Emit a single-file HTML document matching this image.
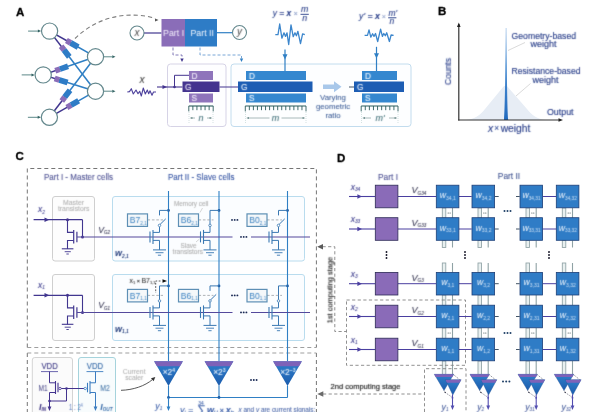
<!DOCTYPE html>
<html><head><meta charset="utf-8"><title>figure</title>
<style>
html,body{margin:0;padding:0;background:#fff;}
body{width:600px;height:412px;overflow:hidden;}
svg{display:block;font-family:"Liberation Sans",sans-serif;}
text{filter:url(#soft);}
</style></head><body>
<svg width="600" height="412" viewBox="0 0 600 412">
<defs><filter id="crisp" x="-10%" y="-20%" width="120%" height="140%"><feConvolveMatrix order="3" kernelMatrix="0 1 0 1 14 1 0 1 0" divisor="18" edgeMode="none" preserveAlpha="false"/></filter><filter id="soft" x="-10%" y="-20%" width="120%" height="140%"><feConvolveMatrix order="3" kernelMatrix="1 5 1 5 25 5 1 5 1" divisor="49" edgeMode="none" preserveAlpha="false"/></filter></defs>
<g id="fig">
<rect x="0" y="0" width="600" height="412" fill="#ffffff"/>
<text x="16" y="15.5" font-size="11.5" fill="#000" text-anchor="start" stroke="#000" stroke-width="0.3" font-weight="bold" style="filter:url(#crisp)">A</text>
<line x1="49.6" y1="31.1" x2="72.24397788458064" y2="43.7786542839591" stroke="#41368f" stroke-width="1.5" />
<line x1="72.24397788458064" y1="43.7786542839591" x2="95.5" y2="56.8" stroke="#2f7fc4" stroke-width="1.5" />
<line x1="49.6" y1="31.1" x2="65.16194617071355" y2="51.476317317208796" stroke="#41368f" stroke-width="1.5" />
<line x1="65.16194617071355" y1="51.476317317208796" x2="95.5" y2="91.2" stroke="#2f7fc4" stroke-width="1.5" />
<line x1="43.2" y1="74.9" x2="61.620173038623534" y2="68.52514087955859" stroke="#41368f" stroke-width="1.5" />
<line x1="61.620173038623534" y1="68.52514087955859" x2="95.5" y2="56.8" stroke="#2f7fc4" stroke-width="1.5" />
<line x1="43.2" y1="74.9" x2="61.08947277222774" y2="80.47549533818953" stroke="#41368f" stroke-width="1.5" />
<line x1="61.08947277222774" y1="80.47549533818953" x2="95.5" y2="91.2" stroke="#2f7fc4" stroke-width="1.5" />
<line x1="49.4" y1="117.3" x2="65.88081414442412" y2="95.6711658191397" stroke="#41368f" stroke-width="1.5" />
<line x1="65.88081414442412" y1="95.6711658191397" x2="95.5" y2="56.8" stroke="#2f7fc4" stroke-width="1.5" />
<line x1="49.4" y1="117.3" x2="72.71643980587368" y2="104.09915230079602" stroke="#41368f" stroke-width="1.5" />
<line x1="72.71643980587368" y1="104.09915230079602" x2="95.5" y2="91.2" stroke="#2f7fc4" stroke-width="1.5" />
<g transform="translate(72.24,43.78) rotate(29.25)"><rect x="-6.7" y="-2.9" width="4.9" height="5.8" fill="#8a6db8"/><rect x="-1.8" y="-2.9" width="8.6" height="5.8" fill="#2e7cc6"/></g>
<g transform="translate(65.16,51.48) rotate(52.63)"><rect x="-6.7" y="-2.9" width="4.9" height="5.8" fill="#8a6db8"/><rect x="-1.8" y="-2.9" width="8.6" height="5.8" fill="#2e7cc6"/></g>
<g transform="translate(61.62,68.53) rotate(-19.09)"><rect x="-6.7" y="-2.9" width="4.9" height="5.8" fill="#8a6db8"/><rect x="-1.8" y="-2.9" width="8.6" height="5.8" fill="#2e7cc6"/></g>
<g transform="translate(61.09,80.48) rotate(17.31)"><rect x="-6.7" y="-2.9" width="4.9" height="5.8" fill="#8a6db8"/><rect x="-1.8" y="-2.9" width="8.6" height="5.8" fill="#2e7cc6"/></g>
<g transform="translate(65.88,95.67) rotate(-52.69)"><rect x="-6.7" y="-2.9" width="4.9" height="5.8" fill="#8a6db8"/><rect x="-1.8" y="-2.9" width="8.6" height="5.8" fill="#2e7cc6"/></g>
<g transform="translate(72.72,104.10) rotate(-29.52)"><rect x="-6.7" y="-2.9" width="4.9" height="5.8" fill="#8a6db8"/><rect x="-1.8" y="-2.9" width="8.6" height="5.8" fill="#2e7cc6"/></g>
<circle cx="49.6" cy="31.1" r="8.1" fill="#fff" stroke="#64888d" stroke-width="1.2"/>
<line x1="28.1" y1="31.1" x2="38.6" y2="31.1" stroke="#4a7c7c" stroke-width="0.9" />
<polygon points="41.1,31.1 37.9,29.6 37.9,32.6" fill="#356565"/>
<circle cx="43.2" cy="74.9" r="8.1" fill="#fff" stroke="#64888d" stroke-width="1.2"/>
<line x1="21.700000000000003" y1="74.9" x2="32.2" y2="74.9" stroke="#4a7c7c" stroke-width="0.9" />
<polygon points="34.7,74.9 31.500000000000004,73.4 31.500000000000004,76.4" fill="#356565"/>
<circle cx="49.4" cy="117.3" r="8.1" fill="#fff" stroke="#64888d" stroke-width="1.2"/>
<line x1="27.9" y1="117.3" x2="38.4" y2="117.3" stroke="#4a7c7c" stroke-width="0.9" />
<polygon points="40.9,117.3 37.699999999999996,115.8 37.699999999999996,118.8" fill="#356565"/>
<circle cx="95.5" cy="56.8" r="8.1" fill="#fff" stroke="#64888d" stroke-width="1.2"/>
<line x1="104.0" y1="56.8" x2="112.5" y2="56.8" stroke="#4a7c7c" stroke-width="0.9" />
<polygon points="115.5,56.8 112.3,55.3 112.3,58.3" fill="#356565"/>
<circle cx="95.5" cy="91.2" r="8.1" fill="#fff" stroke="#64888d" stroke-width="1.2"/>
<line x1="104.0" y1="91.2" x2="112.5" y2="91.2" stroke="#4a7c7c" stroke-width="0.9" />
<polygon points="115.5,91.2 112.3,89.7 112.3,92.7" fill="#356565"/>
<path d="M75,38.5 C92,22 115,13 140,15.5 C147,16 151,17 155,18.5" fill="none" stroke="#7c7c7c" stroke-width="1.1" stroke-dasharray="4.2 3"/>
<polygon points="158.5,20 155.0,18.4 155.0,21.6" fill="#555"/>
<line x1="144" y1="33" x2="161.5" y2="33" stroke="#41368f" stroke-width="1.2" />
<line x1="217" y1="32.7" x2="232.5" y2="32.7" stroke="#2f7fc4" stroke-width="1.2" />
<circle cx="137" cy="33" r="7" fill="#fff" stroke="#64888d" stroke-width="1.1"/>
<text x="137" y="36" font-size="10" fill="#4a4a4a" text-anchor="middle" font-style="italic" >x</text>
<circle cx="239.5" cy="32.5" r="7" fill="#fff" stroke="#64888d" stroke-width="1.1"/>
<text x="239.5" y="35.2" font-size="10" fill="#4a4a4a" text-anchor="middle" font-style="italic" >y</text>
<rect x="161.5" y="19" width="23.5" height="27.5" fill="#8a6db8" stroke="none" stroke-width="1" rx="0" />
<rect x="185" y="19" width="32" height="27.5" fill="#2e7cc6" stroke="none" stroke-width="1" rx="0" />
<text x="173.6" y="35.5" font-size="8.8" fill="#f4f0fc" text-anchor="middle" >Part I</text>
<text x="202.2" y="35.5" font-size="8.8" fill="#f2f7fe" text-anchor="middle" >Part II</text>
<polyline points="173,47.5 173,55 182,55 182,58.5" fill="none" stroke="#6258a5" stroke-width="0.8" stroke-dasharray="3 2"/>
<polygon points="182,62 180.3,58.5 183.7,58.5" fill="#41368f"/>
<polyline points="200,47.5 200,55 241.5,55 241.5,58.5" fill="none" stroke="#5590cc" stroke-width="0.8" stroke-dasharray="3 2"/>
<polygon points="241.5,62 239.8,58.5 243.2,58.5" fill="#2f7fc4"/>
<rect x="167.5" y="64" width="58.5" height="62.5" fill="#fefeff" stroke="#d6d3e6" stroke-width="1" rx="3" />
<rect x="231" y="64" width="180" height="62.5" fill="#fdfeff" stroke="#c2dcee" stroke-width="1" rx="3" />
<text x="142" y="83.4" font-size="10.3" fill="#444" text-anchor="middle" stroke="#444" stroke-width="0.08" font-style="italic" >x</text>
<path d="M127.3,92 L129.5,91.6 L131.3,88.7 L133.3,94 L136,90 L138,93.7 L139.7,91.3 L141.3,96 L143.3,88 L145.3,94 L147.3,90 L148.7,93.7 L150,90.7 L152,95.3 L153.5,92 L156,92" fill="none" stroke="#4d419c" stroke-width="1.1" stroke-linejoin="round"/>
<line x1="157" y1="87" x2="182.5" y2="87" stroke="#44348f" stroke-width="1.1" />
<polygon points="167,87 162.5,85 162.5,89" fill="#44348f"/>
<circle cx="174.5" cy="87" r="1.3" fill="#44348f" stroke="none" stroke-width="1"/>
<polyline points="174.5,87 174.5,75.3 189,75.3" fill="none" stroke="#44348f" stroke-width="1" />
<rect x="189" y="71" width="24" height="9" fill="#8f74bb" stroke="none" stroke-width="1" rx="0" />
<rect x="182.5" y="81.5" width="37" height="10.5" fill="#44348f" stroke="none" stroke-width="1" rx="0" />
<rect x="189" y="93.5" width="24" height="9" fill="#8f74bb" stroke="none" stroke-width="1" rx="0" />
<text x="191.5" y="78.7" font-size="8.3" fill="#f6f2fc" text-anchor="start" stroke="#f6f2fc" stroke-width="0.08" >D</text>
<text x="185" y="89.8" font-size="8.3" fill="#f3effb" text-anchor="start" stroke="#f3effb" stroke-width="0.08" >G</text>
<text x="191.5" y="101.2" font-size="8.3" fill="#f6f2fc" text-anchor="start" stroke="#f6f2fc" stroke-width="0.08" >S</text>
<line x1="219.5" y1="87" x2="238" y2="87" stroke="#44348f" stroke-width="1" />
<line x1="188.8" y1="106" x2="213.2" y2="106" stroke="#2c5c5c" stroke-width="1.1" />
<line x1="188.8" y1="106" x2="188.8" y2="111.4" stroke="#2c5c5c" stroke-width="0.9" />
<line x1="192.86666666666667" y1="106" x2="192.86666666666667" y2="110.2" stroke="#2c5c5c" stroke-width="0.9" />
<line x1="196.93333333333334" y1="106" x2="196.93333333333334" y2="110.2" stroke="#2c5c5c" stroke-width="0.9" />
<line x1="201.0" y1="106" x2="201.0" y2="110.2" stroke="#2c5c5c" stroke-width="0.9" />
<line x1="205.06666666666666" y1="106" x2="205.06666666666666" y2="110.2" stroke="#2c5c5c" stroke-width="0.9" />
<line x1="209.13333333333333" y1="106" x2="209.13333333333333" y2="110.2" stroke="#2c5c5c" stroke-width="0.9" />
<line x1="213.2" y1="106" x2="213.2" y2="111.4" stroke="#2c5c5c" stroke-width="0.9" />
<line x1="189" y1="112" x2="189" y2="123" stroke="#b9cfcf" stroke-width="0.6" stroke-dasharray="1 1"/>
<line x1="213" y1="112" x2="213" y2="123" stroke="#b9cfcf" stroke-width="0.6" stroke-dasharray="1 1"/>
<line x1="191.5" y1="118" x2="195" y2="118" stroke="#7d9696" stroke-width="0.65" />
<polygon points="189.8,118 192.4,116.9 192.4,119.1" fill="#5f8080"/>
<line x1="207" y1="118" x2="210.5" y2="118" stroke="#7d9696" stroke-width="0.65" />
<polygon points="212.2,118 209.6,116.9 209.6,119.1" fill="#5f8080"/>
<text x="201" y="120.8" font-size="9" fill="#3f6f78" text-anchor="middle" stroke="#3f6f78" stroke-width="0.08" font-style="italic" >n</text>
<rect x="246" y="71" width="60" height="9" fill="#3487cf" stroke="none" stroke-width="1" rx="0" />
<rect x="238" y="81.5" width="74.5" height="10.5" fill="#1d5db3" stroke="none" stroke-width="1" rx="0" />
<rect x="246" y="93.5" width="60" height="9" fill="#3487cf" stroke="none" stroke-width="1" rx="0" />
<text x="249" y="78.7" font-size="8.3" fill="#f0f7fe" text-anchor="start" stroke="#f0f7fe" stroke-width="0.08" >D</text>
<text x="241" y="89.8" font-size="8.3" fill="#f0f6fe" text-anchor="start" stroke="#f0f6fe" stroke-width="0.08" >G</text>
<text x="249" y="101.2" font-size="8.3" fill="#f0f7fe" text-anchor="start" stroke="#f0f7fe" stroke-width="0.08" >S</text>
<line x1="245.3" y1="106" x2="306" y2="106" stroke="#2c5c5c" stroke-width="1.1" />
<line x1="245.3" y1="106" x2="245.3" y2="111.4" stroke="#2c5c5c" stroke-width="0.9" />
<line x1="249.34666666666666" y1="106" x2="249.34666666666666" y2="110.2" stroke="#2c5c5c" stroke-width="0.9" />
<line x1="253.39333333333335" y1="106" x2="253.39333333333335" y2="110.2" stroke="#2c5c5c" stroke-width="0.9" />
<line x1="257.44" y1="106" x2="257.44" y2="110.2" stroke="#2c5c5c" stroke-width="0.9" />
<line x1="261.4866666666667" y1="106" x2="261.4866666666667" y2="110.2" stroke="#2c5c5c" stroke-width="0.9" />
<line x1="265.53333333333336" y1="106" x2="265.53333333333336" y2="110.2" stroke="#2c5c5c" stroke-width="0.9" />
<line x1="269.58" y1="106" x2="269.58" y2="110.2" stroke="#2c5c5c" stroke-width="0.9" />
<line x1="273.62666666666667" y1="106" x2="273.62666666666667" y2="110.2" stroke="#2c5c5c" stroke-width="0.9" />
<line x1="277.67333333333335" y1="106" x2="277.67333333333335" y2="110.2" stroke="#2c5c5c" stroke-width="0.9" />
<line x1="281.72" y1="106" x2="281.72" y2="110.2" stroke="#2c5c5c" stroke-width="0.9" />
<line x1="285.76666666666665" y1="106" x2="285.76666666666665" y2="110.2" stroke="#2c5c5c" stroke-width="0.9" />
<line x1="289.81333333333333" y1="106" x2="289.81333333333333" y2="110.2" stroke="#2c5c5c" stroke-width="0.9" />
<line x1="293.86" y1="106" x2="293.86" y2="110.2" stroke="#2c5c5c" stroke-width="0.9" />
<line x1="297.9066666666667" y1="106" x2="297.9066666666667" y2="110.2" stroke="#2c5c5c" stroke-width="0.9" />
<line x1="301.9533333333333" y1="106" x2="301.9533333333333" y2="110.2" stroke="#2c5c5c" stroke-width="0.9" />
<line x1="306.0" y1="106" x2="306.0" y2="111.4" stroke="#2c5c5c" stroke-width="0.9" />
<line x1="245.5" y1="112" x2="245.5" y2="123" stroke="#b9cfcf" stroke-width="0.6" stroke-dasharray="1 1"/>
<line x1="306" y1="112" x2="306" y2="123" stroke="#b9cfcf" stroke-width="0.6" stroke-dasharray="1 1"/>
<line x1="248.0" y1="118" x2="269.5" y2="118" stroke="#7d9696" stroke-width="0.65" />
<polygon points="246.3,118 248.9,116.9 248.9,119.1" fill="#5f8080"/>
<line x1="281.5" y1="118" x2="303.5" y2="118" stroke="#7d9696" stroke-width="0.65" />
<polygon points="305.2,118 302.59999999999997,116.9 302.59999999999997,119.1" fill="#5f8080"/>
<text x="275.5" y="120.8" font-size="9" fill="#3f6f78" text-anchor="middle" stroke="#3f6f78" stroke-width="0.08" font-style="italic" >m</text>
<text x="272.8" y="15.8" font-size="9.3" fill="#2a3f8a" text-anchor="start" textLength="18.5" lengthAdjust="spacingAndGlyphs" stroke="#2a3f8a" stroke-width="0.1" font-style="italic" >y = <tspan font-weight="bold">x</tspan></text>
<text x="293.6" y="15.6" font-size="7.5" fill="#8a9cc8" text-anchor="start" stroke="#8a9cc8" stroke-width="0.08" >×</text>
<text x="304.6" y="12.4" font-size="8.8" fill="#2a3f8a" text-anchor="middle" stroke="#2a3f8a" stroke-width="0.12" font-style="italic" >m</text>
<line x1="300.5" y1="14.3" x2="308.8" y2="14.3" stroke="#2a3f8a" stroke-width="0.9" />
<text x="304.6" y="20.6" font-size="8.8" fill="#2a3f8a" text-anchor="middle" stroke="#2a3f8a" stroke-width="0.12" font-style="italic" >n</text>
<path d="M275.3,34.7 L278,34.7 L279.7,24 L281.9,38.2 L284,32.8 L285.5,36.4 L287,32.8 L288.7,44.5 L291,24.8 L293.2,36.7 L295,32.8 L296.4,35.7 L297.9,31.3 L300.5,43.7 L302.6,33.8 L304.8,34.7" fill="none" stroke="#3c86cc" stroke-width="1.3" stroke-linejoin="round"/>
<line x1="285" y1="49.5" x2="285" y2="71" stroke="#2f7fc4" stroke-width="1.2" />
<polygon points="285,59.5 282.5,54.3 287.5,54.3" fill="#2f7fc4"/>
<polygon points="323,84.6 334,84.6 334,81.3 341.5,86.8 334,92.3 334,89 323,89" fill="#a9c8ea"/>
<text x="333" y="100.3" font-size="7.8" fill="#3f5f98" text-anchor="middle" stroke="#3f5f98" stroke-width="0.08" >Varying</text>
<text x="333" y="109.3" font-size="7.8" fill="#3f5f98" text-anchor="middle" stroke="#3f5f98" stroke-width="0.08" >geometric</text>
<text x="333" y="118.3" font-size="7.8" fill="#3f5f98" text-anchor="middle" stroke="#3f5f98" stroke-width="0.08" >ratio</text>
<line x1="349" y1="87" x2="354.5" y2="87" stroke="#456" stroke-width="1" />
<rect x="362" y="71" width="35" height="9" fill="#3487cf" stroke="none" stroke-width="1" rx="0" />
<rect x="354" y="81.5" width="50" height="10.5" fill="#1d5db3" stroke="none" stroke-width="1" rx="0" />
<rect x="362" y="93.5" width="35" height="9" fill="#3487cf" stroke="none" stroke-width="1" rx="0" />
<text x="365" y="78.7" font-size="8.3" fill="#f0f7fe" text-anchor="start" stroke="#f0f7fe" stroke-width="0.08" >D</text>
<text x="357" y="89.8" font-size="8.3" fill="#f0f6fe" text-anchor="start" stroke="#f0f6fe" stroke-width="0.08" >G</text>
<text x="365" y="101.2" font-size="8.3" fill="#f0f7fe" text-anchor="start" stroke="#f0f7fe" stroke-width="0.08" >S</text>
<line x1="361.2" y1="106" x2="398" y2="106" stroke="#2c5c5c" stroke-width="1.1" />
<line x1="361.2" y1="106" x2="361.2" y2="111.4" stroke="#2c5c5c" stroke-width="0.9" />
<line x1="365.2888888888889" y1="106" x2="365.2888888888889" y2="110.2" stroke="#2c5c5c" stroke-width="0.9" />
<line x1="369.3777777777778" y1="106" x2="369.3777777777778" y2="110.2" stroke="#2c5c5c" stroke-width="0.9" />
<line x1="373.46666666666664" y1="106" x2="373.46666666666664" y2="110.2" stroke="#2c5c5c" stroke-width="0.9" />
<line x1="377.55555555555554" y1="106" x2="377.55555555555554" y2="110.2" stroke="#2c5c5c" stroke-width="0.9" />
<line x1="381.64444444444445" y1="106" x2="381.64444444444445" y2="110.2" stroke="#2c5c5c" stroke-width="0.9" />
<line x1="385.73333333333335" y1="106" x2="385.73333333333335" y2="110.2" stroke="#2c5c5c" stroke-width="0.9" />
<line x1="389.8222222222222" y1="106" x2="389.8222222222222" y2="110.2" stroke="#2c5c5c" stroke-width="0.9" />
<line x1="393.9111111111111" y1="106" x2="393.9111111111111" y2="110.2" stroke="#2c5c5c" stroke-width="0.9" />
<line x1="398.0" y1="106" x2="398.0" y2="111.4" stroke="#2c5c5c" stroke-width="0.9" />
<line x1="361.5" y1="112" x2="361.5" y2="123" stroke="#b9cfcf" stroke-width="0.6" stroke-dasharray="1 1"/>
<line x1="398" y1="112" x2="398" y2="123" stroke="#b9cfcf" stroke-width="0.6" stroke-dasharray="1 1"/>
<line x1="364.0" y1="118" x2="371" y2="118" stroke="#7d9696" stroke-width="0.65" />
<polygon points="362.3,118 364.90000000000003,116.9 364.90000000000003,119.1" fill="#5f8080"/>
<line x1="389" y1="118" x2="395.5" y2="118" stroke="#7d9696" stroke-width="0.65" />
<polygon points="397.2,118 394.59999999999997,116.9 394.59999999999997,119.1" fill="#5f8080"/>
<text x="380" y="120.8" font-size="9" fill="#3f6f78" text-anchor="middle" stroke="#3f6f78" stroke-width="0.08" font-style="italic" >m'</text>
<text x="359" y="19.3" font-size="9" fill="#2a3f8a" text-anchor="start" textLength="21" lengthAdjust="spacingAndGlyphs" stroke="#2a3f8a" stroke-width="0.1" font-style="italic" >y' = <tspan font-weight='bold'>x</tspan></text>
<text x="381.8" y="19.1" font-size="7.2" fill="#8a9cc8" text-anchor="start" stroke="#8a9cc8" stroke-width="0.08" >×</text>
<text x="392.8" y="15.8" font-size="8.5" fill="#2a3f8a" text-anchor="middle" stroke="#2a3f8a" stroke-width="0.12" font-style="italic" >m'</text>
<line x1="388.2" y1="17.8" x2="396.4" y2="17.8" stroke="#2a3f8a" stroke-width="0.9" />
<text x="391.8" y="24.1" font-size="8.5" fill="#2a3f8a" text-anchor="middle" stroke="#2a3f8a" stroke-width="0.12" font-style="italic" >n</text>
<path d="M364.6,35.3 L367.5,35.3 L369,29.9 L370.8,37.2 L372.6,33.8 L374,36.4 L375.5,33.5 L377.7,41.5 L380.6,29.2 L382.4,36.4 L383.8,33.5 L385.3,35.7 L386.7,32.8 L389.4,41.5 L391.1,35 L393.6,35.3" fill="none" stroke="#3c86cc" stroke-width="1.3" stroke-linejoin="round"/>
<line x1="376.5" y1="46.8" x2="376.5" y2="71" stroke="#2f7fc4" stroke-width="1.2" />
<polygon points="376.5,58.5 374.0,53.3 379.0,53.3" fill="#2f7fc4"/>
<text x="438" y="15.3" font-size="11.5" fill="#000" text-anchor="start" stroke="#000" stroke-width="0.3" font-weight="bold" style="filter:url(#crisp)">B</text>
<defs><linearGradient id="pk" x1="0" y1="0" x2="0" y2="1"><stop offset="0" stop-color="#a9c8ea"/><stop offset="0.4" stop-color="#4f91d4"/><stop offset="1" stop-color="#2169bd"/></linearGradient><linearGradient id="tg" x1="0" y1="0" x2="0" y2="1"><stop offset="0" stop-color="#2f80cb"/><stop offset="1" stop-color="#1c5cad"/></linearGradient></defs>
<path d="M466,120 C475,119.3 480,115 485,109 L503.3,86.8 Q505.5,84.6 507.7,86.8 L527,109 C532,115 537,119.3 546,120 Z" fill="#e7edf5"/>
<path d="M504,120 C504.9,108 505.3,80 505.7,28 L506.5,28 C506.9,80 507.3,108 508.2,120 Z" fill="url(#pk)"/>
<line x1="458.8" y1="24" x2="458.8" y2="120.5" stroke="#333" stroke-width="1.2" />
<polygon points="458.8,22.5 457.0,27.0 460.6,27.0" fill="#222"/>
<line x1="458.2" y1="120" x2="559" y2="120" stroke="#333" stroke-width="1.2" />
<polygon points="563,120 558.5,118.2 558.5,121.8" fill="#222"/>
<text transform="translate(451,71.5) rotate(-90)" font-size="9.3" fill="#2a3f8a" stroke="#2a3f8a" stroke-width="0.16" textLength="27" lengthAdjust="spacingAndGlyphs" text-anchor="middle">Counts</text>
<text x="543.8" y="38.5" font-size="9.3" fill="#2a3f8a" text-anchor="middle" textLength="64.5" lengthAdjust="spacingAndGlyphs" stroke="#2a3f8a" stroke-width="0.16" >Geometry-based</text>
<text x="543.5" y="46.7" font-size="9.3" fill="#2a3f8a" text-anchor="middle" textLength="26" lengthAdjust="spacingAndGlyphs" stroke="#2a3f8a" stroke-width="0.16" >weight</text>
<text x="546" y="74" font-size="9.3" fill="#2a3f8a" text-anchor="middle" textLength="69" lengthAdjust="spacingAndGlyphs" stroke="#2a3f8a" stroke-width="0.16" >Resistance-based</text>
<text x="545.5" y="82.5" font-size="9.3" fill="#2a3f8a" text-anchor="middle" textLength="26" lengthAdjust="spacingAndGlyphs" stroke="#2a3f8a" stroke-width="0.16" >weight</text>
<line x1="508" y1="50.5" x2="525" y2="42.5" stroke="#d0d0d0" stroke-width="0.8" />
<line x1="516" y1="96" x2="530.5" y2="83.5" stroke="#d0d0d0" stroke-width="0.8" />
<text x="547" y="114.5" font-size="9.3" fill="#2a3f8a" text-anchor="start" textLength="26.5" lengthAdjust="spacingAndGlyphs" stroke="#2a3f8a" stroke-width="0.16" >Output</text>
<text x="488" y="131.5" font-size="10.3" fill="#2a3f8a" text-anchor="start" stroke="#2a3f8a" stroke-width="0.14" ><tspan font-style="italic">x</tspan><tspan font-size="8.2" dx="1.2" dy="-0.2" fill="#4a60a5">×</tspan><tspan dx="1.5" dy="0.3">weight</tspan></text>
<text x="15.5" y="159.5" font-size="11.5" fill="#000" text-anchor="start" stroke="#000" stroke-width="0.3" font-weight="bold" style="filter:url(#crisp)">C</text>
<path d="M27.3,347.5 L27.3,168.5 L316.4,168.5 L316.4,347.5" fill="none" stroke="#6e6e6e" stroke-width="0.95" stroke-dasharray="4 3"/>
<path d="M27.3,347.5 L316.4,347.5" fill="none" stroke="#9a9a9a" stroke-width="0.95" stroke-dasharray="4 3"/>
<path d="M27.3,353 L27.3,412 M316.4,353 L316.4,412" fill="none" stroke="#6e6e6e" stroke-width="0.95" stroke-dasharray="4 3"/>
<path d="M27.3,353 L316.4,353" fill="none" stroke="#9a9a9a" stroke-width="0.95" stroke-dasharray="4 3"/>
<text x="44" y="180" font-size="8.4" fill="#4b4f92" text-anchor="start" textLength="69" lengthAdjust="spacingAndGlyphs" stroke="#4b4f92" stroke-width="0.08" >Part I - Master cells</text>
<text x="168" y="180" font-size="8.4" fill="#2f4fa0" text-anchor="start" textLength="66.5" lengthAdjust="spacingAndGlyphs" stroke="#2f4fa0" stroke-width="0.08" >Part II - Slave cells</text>
<rect x="52.5" y="196.5" width="42" height="64.5" fill="#fdfdfd" stroke="#cfcfcf" stroke-width="1" rx="2.5" />
<rect x="112.5" y="196.5" width="192" height="64.5" fill="#fbfdff" stroke="#b9dcee" stroke-width="1" rx="2.5" />
<rect x="52.5" y="274.5" width="42" height="66.0" fill="#fdfdfd" stroke="#cfcfcf" stroke-width="1" rx="2.5" />
<rect x="112.5" y="274.5" width="192" height="66.0" fill="#fbfdff" stroke="#b9dcee" stroke-width="1" rx="2.5" />
<line x1="168.5" y1="191" x2="168.5" y2="361" stroke="#2f7fc4" stroke-width="1.1" />
<line x1="219" y1="191" x2="219" y2="361" stroke="#2f7fc4" stroke-width="1.1" />
<line x1="287.5" y1="191" x2="287.5" y2="361" stroke="#2f7fc4" stroke-width="1.1" />
<line x1="33.6" y1="219.7" x2="82.5" y2="219.7" stroke="#41368f" stroke-width="1.3" />
<polygon points="49.3,219.7 44.5,217.5 44.5,221.89999999999998" fill="#41368f"/>
<circle cx="67.5" cy="219.7" r="1.5" fill="#44348f" stroke="none" stroke-width="1"/>
<polyline points="67.5,219.7 67.5,232.4 73.7,232.4" fill="none" stroke="#41368f" stroke-width="1.1" />
<line x1="73.7" y1="229.9" x2="73.7" y2="243.4" stroke="#41368f" stroke-width="1.2" />
<line x1="76.9" y1="231.70000000000002" x2="76.9" y2="242.3" stroke="#41368f" stroke-width="1.2" />
<polyline points="82.5,219.7 82.5,236.9" fill="none" stroke="#41368f" stroke-width="1.1" />
<circle cx="82.5" cy="236.9" r="1.5" fill="#44348f" stroke="none" stroke-width="1"/>
<polyline points="73.7,240.5 67.5,240.5 67.5,248.9" fill="none" stroke="#41368f" stroke-width="1.1" />
<line x1="61.8" y1="248.8" x2="73.4" y2="248.8" stroke="#41368f" stroke-width="1.1" />
<line x1="64.7" y1="251.70000000000002" x2="70.8" y2="251.70000000000002" stroke="#41368f" stroke-width="0.9" />
<line x1="66.4" y1="254.0" x2="68.8" y2="254.0" stroke="#41368f" stroke-width="0.9" />
<line x1="77" y1="236.9" x2="232.5" y2="236.9" stroke="#54499c" stroke-width="1.05" />
<line x1="251" y1="236.9" x2="310" y2="236.9" stroke="#54499c" stroke-width="1.05" />
<circle cx="241.0" cy="236.9" r="0.95" fill="#1a2a55" stroke="none" stroke-width="1"/>
<circle cx="243.7" cy="236.9" r="0.95" fill="#1a2a55" stroke="none" stroke-width="1"/>
<circle cx="246.4" cy="236.9" r="0.95" fill="#1a2a55" stroke="none" stroke-width="1"/>
<circle cx="232.0" cy="219.9" r="0.95" fill="#1a2a55" stroke="none" stroke-width="1"/>
<circle cx="234.7" cy="219.9" r="0.95" fill="#1a2a55" stroke="none" stroke-width="1"/>
<circle cx="237.4" cy="219.9" r="0.95" fill="#1a2a55" stroke="none" stroke-width="1"/>
<text x="38" y="212.39999999999998" font-size="8.5" fill="#38388a" text-anchor="start" stroke="#38388a" stroke-width="0.08" font-style="italic" >x<tspan font-size="4.8" dy="1.2">2</tspan></text>
<text x="98.2" y="232.8" font-size="8.6" fill="#333350" text-anchor="start" stroke="#333350" stroke-width="0.08" font-style="italic" >V<tspan font-size="4.5" dy="1.2">G2</tspan></text>
<text x="115" y="256.1" font-size="9" fill="#27407e" text-anchor="start" font-style="italic" font-weight="bold" >w<tspan font-size="4.8" dy="1.4">2,1</tspan></text>
<line x1="150.0" y1="231.4" x2="150.0" y2="242.4" stroke="#3a78b2" stroke-width="1.1" />
<line x1="153.0" y1="229.9" x2="153.0" y2="243.9" stroke="#3a78b2" stroke-width="1.1" />
<polyline points="153.0,232.4 159.5,232.4 159.5,226.6" fill="none" stroke="#3a78b2" stroke-width="1" />
<polyline points="153.0,240.4 159.5,240.4 159.5,249.9" fill="none" stroke="#3a78b2" stroke-width="1" />
<line x1="153.0" y1="249.9" x2="166.0" y2="249.9" stroke="#3a78b2" stroke-width="1" />
<line x1="155.5" y1="252.70000000000002" x2="163.5" y2="252.70000000000002" stroke="#3a78b2" stroke-width="0.9" />
<line x1="157.9" y1="255.20000000000002" x2="161.1" y2="255.20000000000002" stroke="#3a78b2" stroke-width="0.9" />
<circle cx="168.5" cy="210.4" r="1.4" fill="#1f5fa8" stroke="none" stroke-width="1"/>
<polyline points="168.5,210.4 159.5,210.4 159.5,215.4" fill="none" stroke="#3a78b2" stroke-width="1" />
<line x1="160.1" y1="224.4" x2="165.7" y2="218.9" stroke="#3a78b2" stroke-width="1" />
<circle cx="159.5" cy="225.4" r="1.25" fill="#fff" stroke="#3a78b2" stroke-width="0.8"/>
<line x1="147.5" y1="219.9" x2="163.0" y2="219.9" stroke="#9a9fa5" stroke-width="0.8" stroke-dasharray="2.6 1.8"/>
<rect x="127.5" y="213.9" width="20" height="12.5" fill="#f5f8fa" stroke="#5d8fb5" stroke-width="1.2" rx="0" />
<text x="129.8" y="223.4" font-size="8.6" fill="#3a80c0" text-anchor="start" >B7<tspan font-size="4.6" dy="1.3">2,1</tspan></text>
<line x1="200.5" y1="231.4" x2="200.5" y2="242.4" stroke="#3a78b2" stroke-width="1.1" />
<line x1="203.5" y1="229.9" x2="203.5" y2="243.9" stroke="#3a78b2" stroke-width="1.1" />
<polyline points="203.5,232.4 210,232.4 210,226.6" fill="none" stroke="#3a78b2" stroke-width="1" />
<polyline points="203.5,240.4 210,240.4 210,249.9" fill="none" stroke="#3a78b2" stroke-width="1" />
<line x1="203.5" y1="249.9" x2="216.5" y2="249.9" stroke="#3a78b2" stroke-width="1" />
<line x1="206" y1="252.70000000000002" x2="214" y2="252.70000000000002" stroke="#3a78b2" stroke-width="0.9" />
<line x1="208.4" y1="255.20000000000002" x2="211.6" y2="255.20000000000002" stroke="#3a78b2" stroke-width="0.9" />
<circle cx="219" cy="210.4" r="1.4" fill="#1f5fa8" stroke="none" stroke-width="1"/>
<polyline points="219,210.4 210,210.4 210,224.20000000000002" fill="none" stroke="#3a78b2" stroke-width="1" />
<circle cx="210" cy="225.4" r="1.25" fill="#fff" stroke="#3a78b2" stroke-width="0.8"/>
<line x1="198.5" y1="219.9" x2="213.5" y2="219.9" stroke="#9a9fa5" stroke-width="0.8" stroke-dasharray="2.6 1.8"/>
<rect x="178.5" y="213.9" width="20" height="12.5" fill="#f5f8fa" stroke="#5d8fb5" stroke-width="1.2" rx="0" />
<text x="180.8" y="223.4" font-size="8.6" fill="#3a80c0" text-anchor="start" >B6<tspan font-size="4.6" dy="1.3">2,1</tspan></text>
<line x1="269.0" y1="231.4" x2="269.0" y2="242.4" stroke="#3a78b2" stroke-width="1.1" />
<line x1="272.0" y1="229.9" x2="272.0" y2="243.9" stroke="#3a78b2" stroke-width="1.1" />
<polyline points="272.0,232.4 278.5,232.4 278.5,226.6" fill="none" stroke="#3a78b2" stroke-width="1" />
<polyline points="272.0,240.4 278.5,240.4 278.5,249.9" fill="none" stroke="#3a78b2" stroke-width="1" />
<line x1="272.0" y1="249.9" x2="285.0" y2="249.9" stroke="#3a78b2" stroke-width="1" />
<line x1="274.5" y1="252.70000000000002" x2="282.5" y2="252.70000000000002" stroke="#3a78b2" stroke-width="0.9" />
<line x1="276.9" y1="255.20000000000002" x2="280.1" y2="255.20000000000002" stroke="#3a78b2" stroke-width="0.9" />
<circle cx="287.5" cy="210.4" r="1.4" fill="#1f5fa8" stroke="none" stroke-width="1"/>
<polyline points="287.5,210.4 278.5,210.4 278.5,215.4" fill="none" stroke="#3a78b2" stroke-width="1" />
<line x1="279.1" y1="224.4" x2="284.7" y2="218.9" stroke="#3a78b2" stroke-width="1" />
<circle cx="278.5" cy="225.4" r="1.25" fill="#fff" stroke="#3a78b2" stroke-width="0.8"/>
<line x1="267" y1="219.9" x2="282.0" y2="219.9" stroke="#9a9fa5" stroke-width="0.8" stroke-dasharray="2.6 1.8"/>
<rect x="247" y="213.9" width="20" height="12.5" fill="#f5f8fa" stroke="#5d8fb5" stroke-width="1.2" rx="0" />
<text x="249.3" y="223.4" font-size="8.6" fill="#3a80c0" text-anchor="start" >B0<tspan font-size="4.6" dy="1.3">2,1</tspan></text>
<line x1="33.6" y1="295.3" x2="82.5" y2="295.3" stroke="#41368f" stroke-width="1.3" />
<polygon points="49.3,295.3 44.5,293.1 44.5,297.5" fill="#41368f"/>
<circle cx="67.5" cy="295.3" r="1.5" fill="#44348f" stroke="none" stroke-width="1"/>
<polyline points="67.5,295.3 67.5,307.9 73.7,307.9" fill="none" stroke="#41368f" stroke-width="1.1" />
<line x1="73.7" y1="305.4" x2="73.7" y2="318.9" stroke="#41368f" stroke-width="1.2" />
<line x1="76.9" y1="307.2" x2="76.9" y2="317.79999999999995" stroke="#41368f" stroke-width="1.2" />
<polyline points="82.5,295.3 82.5,312.4" fill="none" stroke="#41368f" stroke-width="1.1" />
<circle cx="82.5" cy="312.4" r="1.5" fill="#44348f" stroke="none" stroke-width="1"/>
<polyline points="73.7,316.0 67.5,316.0 67.5,324.4" fill="none" stroke="#41368f" stroke-width="1.1" />
<line x1="61.8" y1="324.29999999999995" x2="73.4" y2="324.29999999999995" stroke="#41368f" stroke-width="1.1" />
<line x1="64.7" y1="327.2" x2="70.8" y2="327.2" stroke="#41368f" stroke-width="0.9" />
<line x1="66.4" y1="329.5" x2="68.8" y2="329.5" stroke="#41368f" stroke-width="0.9" />
<line x1="77" y1="312.4" x2="232.5" y2="312.4" stroke="#54499c" stroke-width="1.05" />
<line x1="251" y1="312.4" x2="310" y2="312.4" stroke="#54499c" stroke-width="1.05" />
<circle cx="241.0" cy="312.4" r="0.95" fill="#1a2a55" stroke="none" stroke-width="1"/>
<circle cx="243.7" cy="312.4" r="0.95" fill="#1a2a55" stroke="none" stroke-width="1"/>
<circle cx="246.4" cy="312.4" r="0.95" fill="#1a2a55" stroke="none" stroke-width="1"/>
<circle cx="232.0" cy="295.4" r="0.95" fill="#1a2a55" stroke="none" stroke-width="1"/>
<circle cx="234.7" cy="295.4" r="0.95" fill="#1a2a55" stroke="none" stroke-width="1"/>
<circle cx="237.4" cy="295.4" r="0.95" fill="#1a2a55" stroke="none" stroke-width="1"/>
<text x="38" y="288.0" font-size="8.5" fill="#38388a" text-anchor="start" stroke="#38388a" stroke-width="0.08" font-style="italic" >x<tspan font-size="4.8" dy="1.2">1</tspan></text>
<text x="98.2" y="308.29999999999995" font-size="8.6" fill="#333350" text-anchor="start" stroke="#333350" stroke-width="0.08" font-style="italic" >V<tspan font-size="4.5" dy="1.2">G1</tspan></text>
<text x="115" y="331.59999999999997" font-size="9" fill="#27407e" text-anchor="start" font-style="italic" font-weight="bold" >w<tspan font-size="4.8" dy="1.4">1,1</tspan></text>
<line x1="150.0" y1="306.9" x2="150.0" y2="317.9" stroke="#3a78b2" stroke-width="1.1" />
<line x1="153.0" y1="305.4" x2="153.0" y2="319.4" stroke="#3a78b2" stroke-width="1.1" />
<polyline points="153.0,307.9 159.5,307.9 159.5,302.09999999999997" fill="none" stroke="#3a78b2" stroke-width="1" />
<polyline points="153.0,315.9 159.5,315.9 159.5,325.4" fill="none" stroke="#3a78b2" stroke-width="1" />
<line x1="153.0" y1="325.4" x2="166.0" y2="325.4" stroke="#3a78b2" stroke-width="1" />
<line x1="155.5" y1="328.2" x2="163.5" y2="328.2" stroke="#3a78b2" stroke-width="0.9" />
<line x1="157.9" y1="330.7" x2="161.1" y2="330.7" stroke="#3a78b2" stroke-width="0.9" />
<circle cx="168.5" cy="285.9" r="1.4" fill="#1f5fa8" stroke="none" stroke-width="1"/>
<polyline points="168.5,285.9 159.5,285.9 159.5,299.7" fill="none" stroke="#3a78b2" stroke-width="1" />
<circle cx="159.5" cy="300.9" r="1.25" fill="#fff" stroke="#3a78b2" stroke-width="0.8"/>
<line x1="147.5" y1="295.4" x2="163.0" y2="295.4" stroke="#9a9fa5" stroke-width="0.8" stroke-dasharray="2.6 1.8"/>
<rect x="127.5" y="289.4" width="20" height="12.5" fill="#f5f8fa" stroke="#5d8fb5" stroke-width="1.2" rx="0" />
<text x="129.8" y="298.9" font-size="8.6" fill="#3a80c0" text-anchor="start" >B7<tspan font-size="4.6" dy="1.3">1,1</tspan></text>
<line x1="200.5" y1="306.9" x2="200.5" y2="317.9" stroke="#3a78b2" stroke-width="1.1" />
<line x1="203.5" y1="305.4" x2="203.5" y2="319.4" stroke="#3a78b2" stroke-width="1.1" />
<polyline points="203.5,307.9 210,307.9 210,302.09999999999997" fill="none" stroke="#3a78b2" stroke-width="1" />
<polyline points="203.5,315.9 210,315.9 210,325.4" fill="none" stroke="#3a78b2" stroke-width="1" />
<line x1="203.5" y1="325.4" x2="216.5" y2="325.4" stroke="#3a78b2" stroke-width="1" />
<line x1="206" y1="328.2" x2="214" y2="328.2" stroke="#3a78b2" stroke-width="0.9" />
<line x1="208.4" y1="330.7" x2="211.6" y2="330.7" stroke="#3a78b2" stroke-width="0.9" />
<circle cx="219" cy="285.9" r="1.4" fill="#1f5fa8" stroke="none" stroke-width="1"/>
<polyline points="219,285.9 210,285.9 210,290.9" fill="none" stroke="#3a78b2" stroke-width="1" />
<line x1="210.6" y1="299.9" x2="216.2" y2="294.4" stroke="#3a78b2" stroke-width="1" />
<circle cx="210" cy="300.9" r="1.25" fill="#fff" stroke="#3a78b2" stroke-width="0.8"/>
<line x1="198.5" y1="295.4" x2="213.5" y2="295.4" stroke="#9a9fa5" stroke-width="0.8" stroke-dasharray="2.6 1.8"/>
<rect x="178.5" y="289.4" width="20" height="12.5" fill="#f5f8fa" stroke="#5d8fb5" stroke-width="1.2" rx="0" />
<text x="180.8" y="298.9" font-size="8.6" fill="#3a80c0" text-anchor="start" >B6<tspan font-size="4.6" dy="1.3">1,1</tspan></text>
<line x1="269.0" y1="306.9" x2="269.0" y2="317.9" stroke="#3a78b2" stroke-width="1.1" />
<line x1="272.0" y1="305.4" x2="272.0" y2="319.4" stroke="#3a78b2" stroke-width="1.1" />
<polyline points="272.0,307.9 278.5,307.9 278.5,302.09999999999997" fill="none" stroke="#3a78b2" stroke-width="1" />
<polyline points="272.0,315.9 278.5,315.9 278.5,325.4" fill="none" stroke="#3a78b2" stroke-width="1" />
<line x1="272.0" y1="325.4" x2="285.0" y2="325.4" stroke="#3a78b2" stroke-width="1" />
<line x1="274.5" y1="328.2" x2="282.5" y2="328.2" stroke="#3a78b2" stroke-width="0.9" />
<line x1="276.9" y1="330.7" x2="280.1" y2="330.7" stroke="#3a78b2" stroke-width="0.9" />
<circle cx="287.5" cy="285.9" r="1.4" fill="#1f5fa8" stroke="none" stroke-width="1"/>
<polyline points="287.5,285.9 278.5,285.9 278.5,299.7" fill="none" stroke="#3a78b2" stroke-width="1" />
<circle cx="278.5" cy="300.9" r="1.25" fill="#fff" stroke="#3a78b2" stroke-width="0.8"/>
<line x1="267" y1="295.4" x2="282.0" y2="295.4" stroke="#9a9fa5" stroke-width="0.8" stroke-dasharray="2.6 1.8"/>
<rect x="247" y="289.4" width="20" height="12.5" fill="#f5f8fa" stroke="#5d8fb5" stroke-width="1.2" rx="0" />
<text x="249.3" y="298.9" font-size="8.6" fill="#3a80c0" text-anchor="start" >B0<tspan font-size="4.6" dy="1.3">1,1</tspan></text>
<text x="73.5" y="204.5" font-size="6.6" fill="#b0b0b0" text-anchor="middle" textLength="21" lengthAdjust="spacingAndGlyphs" stroke="#b0b0b0" stroke-width="0.08" >Master</text>
<text x="73.7" y="211" font-size="6.6" fill="#b0b0b0" text-anchor="middle" textLength="31.5" lengthAdjust="spacingAndGlyphs" stroke="#b0b0b0" stroke-width="0.08" >transistors</text>
<text x="191.2" y="206" font-size="6.6" fill="#adadad" text-anchor="middle" textLength="34.5" lengthAdjust="spacingAndGlyphs" stroke="#adadad" stroke-width="0.08" >Memory cell</text>
<line x1="200" y1="212.5" x2="202.5" y2="208" stroke="#bbb" stroke-width="0.6" />
<text x="188.5" y="247.5" font-size="6.6" fill="#adadad" text-anchor="middle" textLength="16" lengthAdjust="spacingAndGlyphs" stroke="#adadad" stroke-width="0.08" >Slave</text>
<text x="187.8" y="254.3" font-size="6.6" fill="#adadad" text-anchor="middle" textLength="30.5" lengthAdjust="spacingAndGlyphs" stroke="#adadad" stroke-width="0.08" >transistors</text>
<line x1="196" y1="242" x2="199.5" y2="239" stroke="#bbb" stroke-width="0.6" />
<text x="129.5" y="282.6" font-size="6.8" fill="#333" text-anchor="start" stroke="#333" stroke-width="0.08" >x<tspan font-size="4" dy="1">1</tspan><tspan dy="-1" font-size="5.5"> × </tspan><tspan font-size="7">B7</tspan><tspan font-size="4" dy="1">1,1</tspan></text>
<polyline points="160.5,281 155.7,281 155.7,293" fill="none" stroke="#333" stroke-width="0.8" stroke-dasharray="1.8 1.5"/>
<polygon points="167,281 162.5,279.2 162.5,282.8" fill="#111"/>
<rect x="32.3" y="357.5" width="40.2" height="60" fill="#fbfbfb" stroke="#d4d4d4" stroke-width="1" rx="2.5" />
<rect x="78.5" y="357.5" width="37" height="60" fill="#f8fcfd" stroke="#a5d3dc" stroke-width="1" rx="2.5" />
<text x="49.6" y="369.4" font-size="8.3" fill="#3d3a85" text-anchor="middle" textLength="16.3" lengthAdjust="spacingAndGlyphs" stroke="#3d3a85" stroke-width="0.12" >VDD</text>
<line x1="41" y1="371.6" x2="58" y2="371.6" stroke="#5a55a5" stroke-width="0.9" />
<text x="95" y="369.4" font-size="8.3" fill="#356aa8" text-anchor="middle" textLength="16.3" lengthAdjust="spacingAndGlyphs" stroke="#356aa8" stroke-width="0.12" >VDD</text>
<line x1="86.5" y1="371.6" x2="103.3" y2="371.6" stroke="#3a7cc0" stroke-width="0.9" />
<polyline points="49.5,371.6 49.5,382.8 55.5,382.8" fill="none" stroke="#44348f" stroke-width="1" />
<line x1="55.5" y1="381" x2="55.5" y2="394" stroke="#44348f" stroke-width="1.1" />
<line x1="58" y1="382.8" x2="58" y2="392.3" stroke="#44348f" stroke-width="1.1" />
<circle cx="60" cy="388.5" r="1.2" fill="#fff" stroke="#44348f" stroke-width="0.8"/>
<line x1="61.2" y1="388.5" x2="84" y2="388.5" stroke="#44348f" stroke-width="1" />
<circle cx="66.5" cy="388.5" r="1.3" fill="#44348f" stroke="none" stroke-width="1"/>
<polyline points="55.5,392.5 49.5,392.5 49.5,407" fill="none" stroke="#44348f" stroke-width="1" />
<polyline points="66.5,388.5 66.5,401 49.5,401" fill="none" stroke="#44348f" stroke-width="1" />
<circle cx="49.5" cy="401" r="1.3" fill="#44348f" stroke="none" stroke-width="1"/>
<polygon points="49.5,411 47.6,406.5 51.4,406.5" fill="#44348f"/>
<circle cx="85.2" cy="388.5" r="1.2" fill="#fff" stroke="#3a7cc0" stroke-width="0.8"/>
<line x1="87.5" y1="382.8" x2="87.5" y2="392.3" stroke="#3a7cc0" stroke-width="1.1" />
<line x1="90" y1="381" x2="90" y2="394" stroke="#3a7cc0" stroke-width="1.1" />
<polyline points="95.5,371.6 95.5,382.8 90,382.8" fill="none" stroke="#3a7cc0" stroke-width="1" />
<polyline points="90,392.5 95.5,392.5 95.5,407" fill="none" stroke="#3a7cc0" stroke-width="1" />
<polygon points="95.5,411 93.6,406.5 97.4,406.5" fill="#3a7cc0"/>
<text x="38.6" y="391.2" font-size="8.3" fill="#565590" text-anchor="start" textLength="9.2" lengthAdjust="spacingAndGlyphs" stroke="#565590" stroke-width="0.08" >M1</text>
<text x="100.3" y="391.2" font-size="8.3" fill="#4a7aaa" text-anchor="start" textLength="9.6" lengthAdjust="spacingAndGlyphs" stroke="#4a7aaa" stroke-width="0.08" >M2</text>
<text x="39" y="410.2" font-size="8.8" fill="#3a3080" text-anchor="start" font-style="italic" font-weight="bold" >I<tspan font-size="4.6" dy="1">IN</tspan></text>
<text x="69" y="410.2" font-size="8.4" fill="#6f8cc4" text-anchor="start" textLength="13.8" lengthAdjust="spacingAndGlyphs" stroke="#6f8cc4" stroke-width="0.08" >1 : 2<tspan font-size="4.8" dy="-3.5">4</tspan></text>
<text x="100.3" y="410.2" font-size="8.8" fill="#356aa8" text-anchor="start" font-style="italic" font-weight="bold" >I<tspan font-size="4.6" dy="1">OUT</tspan></text>
<text x="134.2" y="373.5" font-size="6.8" fill="#b0b0b0" text-anchor="middle" stroke="#b0b0b0" stroke-width="0.08" >Current</text>
<text x="134.2" y="380.2" font-size="6.8" fill="#b0b0b0" text-anchor="middle" stroke="#b0b0b0" stroke-width="0.08" >scaler</text>
<path d="M121,390.3 C133,390 145,386 152.5,379.5" fill="none" stroke="#444" stroke-width="0.9"/>
<polygon points="155.3,377 151,378.2 153.6,381.2" fill="#333"/>
<polygon points="154.1,361.2 182.9,361.2 168.5,386" fill="url(#tg)"/>
<polygon points="154.1,361.2 182.9,361.2 180.0,366.2 157.0,366.2" fill="#7e62b8"/>
<text x="168.8" y="375" font-size="8.4" fill="#eef5fd" text-anchor="middle" stroke="#eef5fd" stroke-width="0.08" >×2<tspan font-size="5" dy="-3.2">4</tspan></text>
<line x1="168.5" y1="385.5" x2="168.5" y2="397.5" stroke="#2f7fc4" stroke-width="1.1" />
<polygon points="204.6,361.2 233.4,361.2 219,386" fill="url(#tg)"/>
<polygon points="204.6,361.2 233.4,361.2 230.5,366.2 207.5,366.2" fill="#7e62b8"/>
<text x="219.3" y="375" font-size="8.4" fill="#eef5fd" text-anchor="middle" stroke="#eef5fd" stroke-width="0.08" >×2<tspan font-size="5" dy="-3.2">3</tspan></text>
<line x1="219" y1="385.5" x2="219" y2="397.5" stroke="#2f7fc4" stroke-width="1.1" />
<polygon points="273.1,361.2 301.9,361.2 287.5,386" fill="url(#tg)"/>
<polygon points="273.1,361.2 301.9,361.2 299.0,366.2 276.0,366.2" fill="#7e62b8"/>
<text x="287.8" y="375" font-size="8.4" fill="#eef5fd" text-anchor="middle" stroke="#eef5fd" stroke-width="0.08" >×2<tspan font-size="5" dy="-3.2">−3</tspan></text>
<line x1="287.5" y1="385.5" x2="287.5" y2="397.5" stroke="#2f7fc4" stroke-width="1.1" />
<polyline points="168.5,397.5 287.5,397.5" fill="none" stroke="#2f7fc4" stroke-width="1.1" />
<circle cx="168.5" cy="397.5" r="1.4" fill="#1f5fa8" stroke="none" stroke-width="1"/>
<circle cx="219" cy="397.5" r="1.4" fill="#1f5fa8" stroke="none" stroke-width="1"/>
<line x1="168.5" y1="397.5" x2="168.5" y2="407" stroke="#2f7fc4" stroke-width="1.1" />
<polygon points="168.5,411 166.6,406.5 170.4,406.5" fill="#2f7fc4"/>
<circle cx="251.0" cy="380" r="0.95" fill="#1a2a55" stroke="none" stroke-width="1"/>
<circle cx="253.8" cy="380" r="0.95" fill="#1a2a55" stroke="none" stroke-width="1"/>
<circle cx="256.6" cy="380" r="0.95" fill="#1a2a55" stroke="none" stroke-width="1"/>
<text x="155.3" y="409.3" font-size="8.8" fill="#3c5fa8" text-anchor="start" stroke="#3c5fa8" stroke-width="0.08" font-style="italic" >y<tspan font-size="4.6" dy="1">1</tspan></text>
<text x="180" y="413" font-size="9" fill="#3c5fa8" text-anchor="start" stroke="#3c5fa8" stroke-width="0.08" font-style="italic" >y<tspan font-size="4.5" dy="1">i</tspan><tspan dy="-1"> = </tspan></text>
<text x="197" y="413.5" font-size="12.5" fill="#3c5fa8" text-anchor="start" stroke="#3c5fa8" stroke-width="0.08" >∑</text>
<text x="201" y="404.6" font-size="4.8" fill="#3c5fa8" text-anchor="middle" stroke="#3c5fa8" stroke-width="0.08" >34</text>
<text x="207" y="413.2" font-size="9" fill="#3c5fa8" text-anchor="start" stroke="#3c5fa8" stroke-width="0.08" font-style="italic" font-weight="bold" >w<tspan font-size="4.5" dy="1">i,j</tspan><tspan dy="-1" font-style="normal" font-size="7"> × </tspan>x<tspan font-size="4.5" dy="1">j</tspan><tspan dy="-1">,</tspan></text>
<text x="238.5" y="412.4" font-size="6.4" fill="#4a66a8" text-anchor="start" stroke="#4a66a8" stroke-width="0.08" ><tspan font-style="italic">x</tspan> and <tspan font-style="italic">y</tspan> are current signals;</text>
<polyline points="322.5,246.7 334.8,246.7 334.8,331.5 346.5,331.5" fill="none" stroke="#858585" stroke-width="0.9" stroke-dasharray="3.2 2.4"/>
<polygon points="317.2,246.7 323,244 323,249.4" fill="#5a5a5a"/>
<text transform="translate(332.4,290) rotate(-90)" font-size="7.7" fill="#1c1c1c" stroke="#1c1c1c" stroke-width="0.16" textLength="66.5" lengthAdjust="spacingAndGlyphs" text-anchor="middle">1st computing stage</text>
<line x1="323" y1="394" x2="424.5" y2="394" stroke="#858585" stroke-width="0.9" stroke-dasharray="3.2 2.4"/>
<polygon points="317.3,394 323.3,391.2 323.3,396.8" fill="#6a6a6a"/>
<text x="330.5" y="389.4" font-size="7.7" fill="#1c1c1c" text-anchor="start" textLength="70" lengthAdjust="spacingAndGlyphs" stroke="#1c1c1c" stroke-width="0.16" >2nd computing stage</text>
<text x="337" y="161.5" font-size="11.5" fill="#000" text-anchor="start" stroke="#000" stroke-width="0.3" font-weight="bold" style="filter:url(#crisp)">D</text>
<text x="388" y="179.5" font-size="8.4" fill="#4b4f92" text-anchor="middle" stroke="#4b4f92" stroke-width="0.08" >Part I</text>
<text x="509" y="179.3" font-size="8.4" fill="#3f5290" text-anchor="middle" stroke="#3f5290" stroke-width="0.08" >Part II</text>
<rect x="442.3" y="208" width="3.5" height="10" fill="#e9f0f0" stroke="#8fa2a5" stroke-width="0.85" rx="0" />
<line x1="452.5" y1="208" x2="452.5" y2="218" stroke="#8fa2a5" stroke-width="1.1" />
<rect x="442.3" y="240.5" width="3.5" height="7.0" fill="#e9f0f0" stroke="#8fa2a5" stroke-width="0.85" rx="0" />
<line x1="452.5" y1="240.5" x2="452.5" y2="247.5" stroke="#8fa2a5" stroke-width="1.1" />
<rect x="442.3" y="263" width="3.5" height="9.5" fill="#e9f0f0" stroke="#8fa2a5" stroke-width="0.85" rx="0" />
<line x1="452.5" y1="263" x2="452.5" y2="272.5" stroke="#8fa2a5" stroke-width="1.1" />
<rect x="442.3" y="295" width="3.5" height="10.5" fill="#e9f0f0" stroke="#8fa2a5" stroke-width="0.85" rx="0" />
<line x1="452.5" y1="295" x2="452.5" y2="305.5" stroke="#8fa2a5" stroke-width="1.1" />
<rect x="442.3" y="328" width="3.5" height="10.5" fill="#e9f0f0" stroke="#8fa2a5" stroke-width="0.85" rx="0" />
<line x1="452.5" y1="328" x2="452.5" y2="338.5" stroke="#8fa2a5" stroke-width="1.1" />
<rect x="442.3" y="361" width="3.5" height="13.5" fill="#e9f0f0" stroke="#8fa2a5" stroke-width="0.85" rx="0" />
<line x1="452.5" y1="361" x2="452.5" y2="374.5" stroke="#8fa2a5" stroke-width="1.1" />
<circle cx="448.2" cy="213" r="0.6" fill="#455" stroke="none" stroke-width="1"/>
<circle cx="450.09999999999997" cy="213" r="0.6" fill="#455" stroke="none" stroke-width="1"/>
<circle cx="448.2" cy="333" r="0.6" fill="#455" stroke="none" stroke-width="1"/>
<circle cx="450.09999999999997" cy="333" r="0.6" fill="#455" stroke="none" stroke-width="1"/>
<rect x="478.0" y="208" width="3.5" height="10" fill="#e9f0f0" stroke="#8fa2a5" stroke-width="0.85" rx="0" />
<line x1="488.2" y1="208" x2="488.2" y2="218" stroke="#8fa2a5" stroke-width="1.1" />
<rect x="478.0" y="240.5" width="3.5" height="7.0" fill="#e9f0f0" stroke="#8fa2a5" stroke-width="0.85" rx="0" />
<line x1="488.2" y1="240.5" x2="488.2" y2="247.5" stroke="#8fa2a5" stroke-width="1.1" />
<rect x="478.0" y="263" width="3.5" height="9.5" fill="#e9f0f0" stroke="#8fa2a5" stroke-width="0.85" rx="0" />
<line x1="488.2" y1="263" x2="488.2" y2="272.5" stroke="#8fa2a5" stroke-width="1.1" />
<rect x="478.0" y="295" width="3.5" height="10.5" fill="#e9f0f0" stroke="#8fa2a5" stroke-width="0.85" rx="0" />
<line x1="488.2" y1="295" x2="488.2" y2="305.5" stroke="#8fa2a5" stroke-width="1.1" />
<rect x="478.0" y="328" width="3.5" height="10.5" fill="#e9f0f0" stroke="#8fa2a5" stroke-width="0.85" rx="0" />
<line x1="488.2" y1="328" x2="488.2" y2="338.5" stroke="#8fa2a5" stroke-width="1.1" />
<rect x="478.0" y="361" width="3.5" height="13.5" fill="#e9f0f0" stroke="#8fa2a5" stroke-width="0.85" rx="0" />
<line x1="488.2" y1="361" x2="488.2" y2="374.5" stroke="#8fa2a5" stroke-width="1.1" />
<circle cx="483.9" cy="213" r="0.6" fill="#455" stroke="none" stroke-width="1"/>
<circle cx="485.79999999999995" cy="213" r="0.6" fill="#455" stroke="none" stroke-width="1"/>
<circle cx="483.9" cy="333" r="0.6" fill="#455" stroke="none" stroke-width="1"/>
<circle cx="485.79999999999995" cy="333" r="0.6" fill="#455" stroke="none" stroke-width="1"/>
<rect x="526.0" y="208" width="3.5" height="10" fill="#e9f0f0" stroke="#8fa2a5" stroke-width="0.85" rx="0" />
<line x1="536.2" y1="208" x2="536.2" y2="218" stroke="#8fa2a5" stroke-width="1.1" />
<rect x="526.0" y="240.5" width="3.5" height="7.0" fill="#e9f0f0" stroke="#8fa2a5" stroke-width="0.85" rx="0" />
<line x1="536.2" y1="240.5" x2="536.2" y2="247.5" stroke="#8fa2a5" stroke-width="1.1" />
<rect x="526.0" y="263" width="3.5" height="9.5" fill="#e9f0f0" stroke="#8fa2a5" stroke-width="0.85" rx="0" />
<line x1="536.2" y1="263" x2="536.2" y2="272.5" stroke="#8fa2a5" stroke-width="1.1" />
<rect x="526.0" y="295" width="3.5" height="10.5" fill="#e9f0f0" stroke="#8fa2a5" stroke-width="0.85" rx="0" />
<line x1="536.2" y1="295" x2="536.2" y2="305.5" stroke="#8fa2a5" stroke-width="1.1" />
<rect x="526.0" y="328" width="3.5" height="10.5" fill="#e9f0f0" stroke="#8fa2a5" stroke-width="0.85" rx="0" />
<line x1="536.2" y1="328" x2="536.2" y2="338.5" stroke="#8fa2a5" stroke-width="1.1" />
<rect x="526.0" y="361" width="3.5" height="13.5" fill="#e9f0f0" stroke="#8fa2a5" stroke-width="0.85" rx="0" />
<line x1="536.2" y1="361" x2="536.2" y2="374.5" stroke="#8fa2a5" stroke-width="1.1" />
<circle cx="531.9000000000001" cy="213" r="0.6" fill="#455" stroke="none" stroke-width="1"/>
<circle cx="533.8000000000001" cy="213" r="0.6" fill="#455" stroke="none" stroke-width="1"/>
<circle cx="531.9000000000001" cy="333" r="0.6" fill="#455" stroke="none" stroke-width="1"/>
<circle cx="533.8000000000001" cy="333" r="0.6" fill="#455" stroke="none" stroke-width="1"/>
<rect x="562.3" y="208" width="3.5" height="10" fill="#e9f0f0" stroke="#8fa2a5" stroke-width="0.85" rx="0" />
<line x1="572.5" y1="208" x2="572.5" y2="218" stroke="#8fa2a5" stroke-width="1.1" />
<rect x="562.3" y="240.5" width="3.5" height="7.0" fill="#e9f0f0" stroke="#8fa2a5" stroke-width="0.85" rx="0" />
<line x1="572.5" y1="240.5" x2="572.5" y2="247.5" stroke="#8fa2a5" stroke-width="1.1" />
<rect x="562.3" y="263" width="3.5" height="9.5" fill="#e9f0f0" stroke="#8fa2a5" stroke-width="0.85" rx="0" />
<line x1="572.5" y1="263" x2="572.5" y2="272.5" stroke="#8fa2a5" stroke-width="1.1" />
<rect x="562.3" y="295" width="3.5" height="10.5" fill="#e9f0f0" stroke="#8fa2a5" stroke-width="0.85" rx="0" />
<line x1="572.5" y1="295" x2="572.5" y2="305.5" stroke="#8fa2a5" stroke-width="1.1" />
<rect x="562.3" y="328" width="3.5" height="10.5" fill="#e9f0f0" stroke="#8fa2a5" stroke-width="0.85" rx="0" />
<line x1="572.5" y1="328" x2="572.5" y2="338.5" stroke="#8fa2a5" stroke-width="1.1" />
<rect x="562.3" y="361" width="3.5" height="13.5" fill="#e9f0f0" stroke="#8fa2a5" stroke-width="0.85" rx="0" />
<line x1="572.5" y1="361" x2="572.5" y2="374.5" stroke="#8fa2a5" stroke-width="1.1" />
<circle cx="568.2" cy="213" r="0.6" fill="#455" stroke="none" stroke-width="1"/>
<circle cx="570.1" cy="213" r="0.6" fill="#455" stroke="none" stroke-width="1"/>
<circle cx="568.2" cy="333" r="0.6" fill="#455" stroke="none" stroke-width="1"/>
<circle cx="570.1" cy="333" r="0.6" fill="#455" stroke="none" stroke-width="1"/>
<rect x="346.5" y="300" width="119" height="65.3" fill="none" stroke="#858585" stroke-width="0.9" rx="0" stroke-dasharray="3.2 2.4"/>
<path d="M424.5,412 L424.5,368.7 L466,368.7 L466,412" fill="none" stroke="#858585" stroke-width="0.9" stroke-dasharray="3.2 2.4"/>
<line x1="349" y1="196.5" x2="375" y2="196.5" stroke="#4a3fa0" stroke-width="1.1" />
<polygon points="362,196.5 357.4,194.3 357.4,198.7" fill="#4a3fa0"/>
<line x1="398" y1="196.5" x2="436" y2="196.5" stroke="#4a3fa0" stroke-width="1" />
<line x1="459" y1="196.5" x2="471.7" y2="196.5" stroke="#4a3fa0" stroke-width="1" />
<line x1="495" y1="196.5" x2="498.7" y2="196.5" stroke="#456" stroke-width="1" />
<line x1="516" y1="196.5" x2="519.7" y2="196.5" stroke="#456" stroke-width="1" />
<line x1="543" y1="196.5" x2="556" y2="196.5" stroke="#4a3fa0" stroke-width="1" />
<rect x="375.3" y="185.2" width="22.6" height="22.6" fill="#8a6bb8" stroke="#2c2a55" stroke-width="0.8" rx="0" />
<rect x="436.3" y="185.2" width="22.6" height="22.6" fill="#2f7cc6" stroke="#1d3f77" stroke-width="0.8" rx="0" />
<text x="447.8" y="198.0" font-size="8.7" fill="#f2f7fd" text-anchor="middle" font-style="italic" >w<tspan font-size="5" dy="1.7" font-style="normal" fill="#cfe2f5">34,1</tspan></text>
<rect x="472.0" y="185.2" width="22.6" height="22.6" fill="#2f7cc6" stroke="#1d3f77" stroke-width="0.8" rx="0" />
<text x="483.5" y="198.0" font-size="8.7" fill="#f2f7fd" text-anchor="middle" font-style="italic" >w<tspan font-size="5" dy="1.7" font-style="normal" fill="#cfe2f5">34,2</tspan></text>
<rect x="520.0" y="185.2" width="22.6" height="22.6" fill="#2f7cc6" stroke="#1d3f77" stroke-width="0.8" rx="0" />
<text x="531.5" y="198.0" font-size="8.7" fill="#f2f7fd" text-anchor="middle" font-style="italic" >w<tspan font-size="4.7" dy="1.7" font-style="normal" fill="#cfe2f5">34,31</tspan></text>
<rect x="556.3" y="185.2" width="22.6" height="22.6" fill="#2f7cc6" stroke="#1d3f77" stroke-width="0.8" rx="0" />
<text x="567.8" y="198.0" font-size="8.7" fill="#f2f7fd" text-anchor="middle" font-style="italic" >w<tspan font-size="4.7" dy="1.7" font-style="normal" fill="#cfe2f5">34,32</tspan></text>
<text x="350.7" y="189.5" font-size="8.5" fill="#38388a" text-anchor="start" stroke="#38388a" stroke-width="0.08" font-style="italic" >x<tspan font-size="4.8" dy="1.2">34</tspan></text>
<text x="411.5" y="193.4" font-size="9.1" fill="#333350" text-anchor="start" stroke="#333350" stroke-width="0.08" font-style="italic" >V<tspan font-size="4.6" dy="1.3">G34</tspan></text>
<line x1="349" y1="229" x2="375" y2="229" stroke="#4a3fa0" stroke-width="1.1" />
<polygon points="362,229 357.4,226.8 357.4,231.2" fill="#4a3fa0"/>
<line x1="398" y1="229" x2="436" y2="229" stroke="#4a3fa0" stroke-width="1" />
<line x1="459" y1="229" x2="471.7" y2="229" stroke="#4a3fa0" stroke-width="1" />
<line x1="495" y1="229" x2="498.7" y2="229" stroke="#456" stroke-width="1" />
<line x1="516" y1="229" x2="519.7" y2="229" stroke="#456" stroke-width="1" />
<line x1="543" y1="229" x2="556" y2="229" stroke="#4a3fa0" stroke-width="1" />
<rect x="375.3" y="217.7" width="22.6" height="22.6" fill="#8a6bb8" stroke="#2c2a55" stroke-width="0.8" rx="0" />
<rect x="436.3" y="217.7" width="22.6" height="22.6" fill="#2f7cc6" stroke="#1d3f77" stroke-width="0.8" rx="0" />
<text x="447.8" y="230.5" font-size="8.7" fill="#f2f7fd" text-anchor="middle" font-style="italic" >w<tspan font-size="5" dy="1.7" font-style="normal" fill="#cfe2f5">33,1</tspan></text>
<rect x="472.0" y="217.7" width="22.6" height="22.6" fill="#2f7cc6" stroke="#1d3f77" stroke-width="0.8" rx="0" />
<text x="483.5" y="230.5" font-size="8.7" fill="#f2f7fd" text-anchor="middle" font-style="italic" >w<tspan font-size="5" dy="1.7" font-style="normal" fill="#cfe2f5">33,2</tspan></text>
<rect x="520.0" y="217.7" width="22.6" height="22.6" fill="#2f7cc6" stroke="#1d3f77" stroke-width="0.8" rx="0" />
<text x="531.5" y="230.5" font-size="8.7" fill="#f2f7fd" text-anchor="middle" font-style="italic" >w<tspan font-size="4.7" dy="1.7" font-style="normal" fill="#cfe2f5">33,31</tspan></text>
<rect x="556.3" y="217.7" width="22.6" height="22.6" fill="#2f7cc6" stroke="#1d3f77" stroke-width="0.8" rx="0" />
<text x="567.8" y="230.5" font-size="8.7" fill="#f2f7fd" text-anchor="middle" font-style="italic" >w<tspan font-size="4.7" dy="1.7" font-style="normal" fill="#cfe2f5">33,32</tspan></text>
<text x="350.7" y="222" font-size="8.5" fill="#38388a" text-anchor="start" stroke="#38388a" stroke-width="0.08" font-style="italic" >x<tspan font-size="4.8" dy="1.2">33</tspan></text>
<text x="411.5" y="225.9" font-size="9.1" fill="#333350" text-anchor="start" stroke="#333350" stroke-width="0.08" font-style="italic" >V<tspan font-size="4.6" dy="1.3">G33</tspan></text>
<line x1="349" y1="283.7" x2="375" y2="283.7" stroke="#4a3fa0" stroke-width="1.1" />
<polygon points="362,283.7 357.4,281.5 357.4,285.9" fill="#4a3fa0"/>
<line x1="398" y1="283.7" x2="436" y2="283.7" stroke="#4a3fa0" stroke-width="1" />
<line x1="459" y1="283.7" x2="471.7" y2="283.7" stroke="#4a3fa0" stroke-width="1" />
<line x1="495" y1="283.7" x2="498.7" y2="283.7" stroke="#456" stroke-width="1" />
<line x1="516" y1="283.7" x2="519.7" y2="283.7" stroke="#456" stroke-width="1" />
<line x1="543" y1="283.7" x2="556" y2="283.7" stroke="#4a3fa0" stroke-width="1" />
<rect x="375.3" y="272.4" width="22.6" height="22.6" fill="#8a6bb8" stroke="#2c2a55" stroke-width="0.8" rx="0" />
<rect x="436.3" y="272.4" width="22.6" height="22.6" fill="#2f7cc6" stroke="#1d3f77" stroke-width="0.8" rx="0" />
<text x="447.8" y="285.2" font-size="8.7" fill="#f2f7fd" text-anchor="middle" font-style="italic" >w<tspan font-size="5" dy="1.7" font-style="normal" fill="#cfe2f5">3,1</tspan></text>
<rect x="472.0" y="272.4" width="22.6" height="22.6" fill="#2f7cc6" stroke="#1d3f77" stroke-width="0.8" rx="0" />
<text x="483.5" y="285.2" font-size="8.7" fill="#f2f7fd" text-anchor="middle" font-style="italic" >w<tspan font-size="5" dy="1.7" font-style="normal" fill="#cfe2f5">3,2</tspan></text>
<rect x="520.0" y="272.4" width="22.6" height="22.6" fill="#2f7cc6" stroke="#1d3f77" stroke-width="0.8" rx="0" />
<text x="531.5" y="285.2" font-size="8.7" fill="#f2f7fd" text-anchor="middle" font-style="italic" >w<tspan font-size="5" dy="1.7" font-style="normal" fill="#cfe2f5">3,31</tspan></text>
<rect x="556.3" y="272.4" width="22.6" height="22.6" fill="#2f7cc6" stroke="#1d3f77" stroke-width="0.8" rx="0" />
<text x="567.8" y="285.2" font-size="8.7" fill="#f2f7fd" text-anchor="middle" font-style="italic" >w<tspan font-size="5" dy="1.7" font-style="normal" fill="#cfe2f5">3,32</tspan></text>
<text x="350.7" y="276.7" font-size="8.5" fill="#38388a" text-anchor="start" stroke="#38388a" stroke-width="0.08" font-style="italic" >x<tspan font-size="4.8" dy="1.2">3</tspan></text>
<text x="411.5" y="280.59999999999997" font-size="9.1" fill="#333350" text-anchor="start" stroke="#333350" stroke-width="0.08" font-style="italic" >V<tspan font-size="4.6" dy="1.3">G3</tspan></text>
<line x1="349" y1="316.5" x2="375" y2="316.5" stroke="#4a3fa0" stroke-width="1.1" />
<polygon points="362,316.5 357.4,314.3 357.4,318.7" fill="#4a3fa0"/>
<line x1="398" y1="316.5" x2="436" y2="316.5" stroke="#4a3fa0" stroke-width="1" />
<line x1="459" y1="316.5" x2="471.7" y2="316.5" stroke="#4a3fa0" stroke-width="1" />
<line x1="495" y1="316.5" x2="498.7" y2="316.5" stroke="#456" stroke-width="1" />
<line x1="516" y1="316.5" x2="519.7" y2="316.5" stroke="#456" stroke-width="1" />
<line x1="543" y1="316.5" x2="556" y2="316.5" stroke="#4a3fa0" stroke-width="1" />
<rect x="375.3" y="305.2" width="22.6" height="22.6" fill="#8a6bb8" stroke="#2c2a55" stroke-width="0.8" rx="0" />
<rect x="436.3" y="305.2" width="22.6" height="22.6" fill="#2f7cc6" stroke="#1d3f77" stroke-width="0.8" rx="0" />
<text x="447.8" y="318.0" font-size="8.7" fill="#f2f7fd" text-anchor="middle" font-style="italic" >w<tspan font-size="5" dy="1.7" font-style="normal" fill="#cfe2f5">2,1</tspan></text>
<rect x="472.0" y="305.2" width="22.6" height="22.6" fill="#2f7cc6" stroke="#1d3f77" stroke-width="0.8" rx="0" />
<text x="483.5" y="318.0" font-size="8.7" fill="#f2f7fd" text-anchor="middle" font-style="italic" >w<tspan font-size="5" dy="1.7" font-style="normal" fill="#cfe2f5">2,2</tspan></text>
<rect x="520.0" y="305.2" width="22.6" height="22.6" fill="#2f7cc6" stroke="#1d3f77" stroke-width="0.8" rx="0" />
<text x="531.5" y="318.0" font-size="8.7" fill="#f2f7fd" text-anchor="middle" font-style="italic" >w<tspan font-size="5" dy="1.7" font-style="normal" fill="#cfe2f5">2,31</tspan></text>
<rect x="556.3" y="305.2" width="22.6" height="22.6" fill="#2f7cc6" stroke="#1d3f77" stroke-width="0.8" rx="0" />
<text x="567.8" y="318.0" font-size="8.7" fill="#f2f7fd" text-anchor="middle" font-style="italic" >w<tspan font-size="5" dy="1.7" font-style="normal" fill="#cfe2f5">2,32</tspan></text>
<text x="350.7" y="309.5" font-size="8.5" fill="#38388a" text-anchor="start" stroke="#38388a" stroke-width="0.08" font-style="italic" >x<tspan font-size="4.8" dy="1.2">2</tspan></text>
<text x="411.5" y="313.4" font-size="9.1" fill="#333350" text-anchor="start" stroke="#333350" stroke-width="0.08" font-style="italic" >V<tspan font-size="4.6" dy="1.3">G2</tspan></text>
<line x1="349" y1="349.5" x2="375" y2="349.5" stroke="#4a3fa0" stroke-width="1.1" />
<polygon points="362,349.5 357.4,347.3 357.4,351.7" fill="#4a3fa0"/>
<line x1="398" y1="349.5" x2="436" y2="349.5" stroke="#4a3fa0" stroke-width="1" />
<line x1="459" y1="349.5" x2="471.7" y2="349.5" stroke="#4a3fa0" stroke-width="1" />
<line x1="495" y1="349.5" x2="498.7" y2="349.5" stroke="#456" stroke-width="1" />
<line x1="516" y1="349.5" x2="519.7" y2="349.5" stroke="#456" stroke-width="1" />
<line x1="543" y1="349.5" x2="556" y2="349.5" stroke="#4a3fa0" stroke-width="1" />
<rect x="375.3" y="338.2" width="22.6" height="22.6" fill="#8a6bb8" stroke="#2c2a55" stroke-width="0.8" rx="0" />
<rect x="436.3" y="338.2" width="22.6" height="22.6" fill="#2f7cc6" stroke="#1d3f77" stroke-width="0.8" rx="0" />
<text x="447.8" y="351.0" font-size="8.7" fill="#f2f7fd" text-anchor="middle" font-style="italic" >w<tspan font-size="5" dy="1.7" font-style="normal" fill="#cfe2f5">1,1</tspan></text>
<rect x="472.0" y="338.2" width="22.6" height="22.6" fill="#2f7cc6" stroke="#1d3f77" stroke-width="0.8" rx="0" />
<text x="483.5" y="351.0" font-size="8.7" fill="#f2f7fd" text-anchor="middle" font-style="italic" >w<tspan font-size="5" dy="1.7" font-style="normal" fill="#cfe2f5">1,2</tspan></text>
<rect x="520.0" y="338.2" width="22.6" height="22.6" fill="#2f7cc6" stroke="#1d3f77" stroke-width="0.8" rx="0" />
<text x="531.5" y="351.0" font-size="8.7" fill="#f2f7fd" text-anchor="middle" font-style="italic" >w<tspan font-size="5" dy="1.7" font-style="normal" fill="#cfe2f5">1,31</tspan></text>
<rect x="556.3" y="338.2" width="22.6" height="22.6" fill="#2f7cc6" stroke="#1d3f77" stroke-width="0.8" rx="0" />
<text x="567.8" y="351.0" font-size="8.7" fill="#f2f7fd" text-anchor="middle" font-style="italic" >w<tspan font-size="5" dy="1.7" font-style="normal" fill="#cfe2f5">1,32</tspan></text>
<text x="350.7" y="342.5" font-size="8.5" fill="#38388a" text-anchor="start" stroke="#38388a" stroke-width="0.08" font-style="italic" >x<tspan font-size="4.8" dy="1.2">1</tspan></text>
<text x="411.5" y="346.4" font-size="9.1" fill="#333350" text-anchor="start" stroke="#333350" stroke-width="0.08" font-style="italic" >V<tspan font-size="4.6" dy="1.3">G1</tspan></text>
<circle cx="504.5" cy="211" r="1" fill="#1f3f66" stroke="none" stroke-width="1"/>
<circle cx="507.5" cy="211" r="1" fill="#1f3f66" stroke="none" stroke-width="1"/>
<circle cx="510.5" cy="211" r="1" fill="#1f3f66" stroke="none" stroke-width="1"/>
<circle cx="504.5" cy="333" r="1" fill="#1f3f66" stroke="none" stroke-width="1"/>
<circle cx="507.5" cy="333" r="1" fill="#1f3f66" stroke="none" stroke-width="1"/>
<circle cx="510.5" cy="333" r="1" fill="#1f3f66" stroke="none" stroke-width="1"/>
<circle cx="386.5" cy="252" r="0.95" fill="#112" stroke="none" stroke-width="1"/>
<circle cx="386.5" cy="255" r="0.95" fill="#112" stroke="none" stroke-width="1"/>
<circle cx="386.5" cy="258" r="0.95" fill="#112" stroke="none" stroke-width="1"/>
<circle cx="465" cy="252" r="0.95" fill="#112" stroke="none" stroke-width="1"/>
<circle cx="465" cy="255" r="0.95" fill="#112" stroke="none" stroke-width="1"/>
<circle cx="465" cy="258" r="0.95" fill="#112" stroke="none" stroke-width="1"/>
<circle cx="549" cy="252" r="0.95" fill="#112" stroke="none" stroke-width="1"/>
<circle cx="549" cy="255" r="0.95" fill="#112" stroke="none" stroke-width="1"/>
<circle cx="549" cy="258" r="0.95" fill="#112" stroke="none" stroke-width="1"/>
<polygon points="434.3,374.3 453.7,374.3 444,390.5" fill="url(#tg)" stroke="#1d4f95" stroke-width="0.4"/>
<polygon points="434.3,374.3 453.7,374.3 452.2,376.9 435.8,376.9" fill="#7e62b8"/>
<polygon points="445.5,379.7 461.1,379.7 452.8,395" fill="url(#tg)" stroke="#1d4f95" stroke-width="0.4"/>
<polygon points="445.5,379.7 461.1,379.7 459.5,382.7 446.9,382.7" fill="#7e62b8"/>
<line x1="453.7" y1="374.8" x2="459.5" y2="379.5" stroke="#445" stroke-width="0.6" stroke-dasharray="1.2 1"/>
<polyline points="444,390.5 445.2,392.5 452.5,397.5" fill="none" stroke="#445" stroke-width="0.6" stroke-dasharray="1.2 1"/>
<circle cx="445.2" cy="392.4" r="0.7" fill="#334" stroke="none" stroke-width="1"/>
<line x1="452.5" y1="394.5" x2="452.5" y2="406" stroke="#524db0" stroke-width="1.1" />
<polygon points="452.5,410 450.6,405.6 454.4,405.6" fill="#524db0"/>
<circle cx="452.5" cy="397.8" r="0.9" fill="#524db0" stroke="none" stroke-width="1"/>
<text x="441.5" y="409.5" font-size="8.8" fill="#475d9c" text-anchor="start" stroke="#475d9c" stroke-width="0.08" font-style="italic" >y<tspan font-size="4.6" dy="1">1</tspan></text>
<polygon points="470.0,374.3 489.4,374.3 479.7,390.5" fill="url(#tg)" stroke="#1d4f95" stroke-width="0.4"/>
<polygon points="470.0,374.3 489.4,374.3 487.9,376.9 471.5,376.9" fill="#7e62b8"/>
<polygon points="481.2,379.7 496.8,379.7 488.5,395" fill="url(#tg)" stroke="#1d4f95" stroke-width="0.4"/>
<polygon points="481.2,379.7 496.8,379.7 495.2,382.7 482.59999999999997,382.7" fill="#7e62b8"/>
<line x1="489.4" y1="374.8" x2="495.2" y2="379.5" stroke="#445" stroke-width="0.6" stroke-dasharray="1.2 1"/>
<polyline points="479.7,390.5 480.9,392.5 488.2,397.5" fill="none" stroke="#445" stroke-width="0.6" stroke-dasharray="1.2 1"/>
<circle cx="480.9" cy="392.4" r="0.7" fill="#334" stroke="none" stroke-width="1"/>
<line x1="488.2" y1="394.5" x2="488.2" y2="406" stroke="#524db0" stroke-width="1.1" />
<polygon points="488.2,410 486.3,405.6 490.09999999999997,405.6" fill="#524db0"/>
<circle cx="488.2" cy="397.8" r="0.9" fill="#524db0" stroke="none" stroke-width="1"/>
<text x="477.2" y="409.5" font-size="8.8" fill="#475d9c" text-anchor="start" stroke="#475d9c" stroke-width="0.08" font-style="italic" >y<tspan font-size="4.6" dy="1">2</tspan></text>
<polygon points="518.0,374.3 537.4000000000001,374.3 527.7,390.5" fill="url(#tg)" stroke="#1d4f95" stroke-width="0.4"/>
<polygon points="518.0,374.3 537.4000000000001,374.3 535.9000000000001,376.9 519.5,376.9" fill="#7e62b8"/>
<polygon points="529.2,379.7 544.8000000000001,379.7 536.5,395" fill="url(#tg)" stroke="#1d4f95" stroke-width="0.4"/>
<polygon points="529.2,379.7 544.8000000000001,379.7 543.2,382.7 530.6,382.7" fill="#7e62b8"/>
<line x1="537.4000000000001" y1="374.8" x2="543.2" y2="379.5" stroke="#445" stroke-width="0.6" stroke-dasharray="1.2 1"/>
<polyline points="527.7,390.5 528.9000000000001,392.5 536.2,397.5" fill="none" stroke="#445" stroke-width="0.6" stroke-dasharray="1.2 1"/>
<circle cx="528.9000000000001" cy="392.4" r="0.7" fill="#334" stroke="none" stroke-width="1"/>
<line x1="536.2" y1="394.5" x2="536.2" y2="406" stroke="#524db0" stroke-width="1.1" />
<polygon points="536.2,410 534.3000000000001,405.6 538.1,405.6" fill="#524db0"/>
<circle cx="536.2" cy="397.8" r="0.9" fill="#524db0" stroke="none" stroke-width="1"/>
<text x="525.2" y="409.5" font-size="8.8" fill="#475d9c" text-anchor="start" stroke="#475d9c" stroke-width="0.08" font-style="italic" >y<tspan font-size="4.6" dy="1">31</tspan></text>
<polygon points="554.3,374.3 573.7,374.3 564,390.5" fill="url(#tg)" stroke="#1d4f95" stroke-width="0.4"/>
<polygon points="554.3,374.3 573.7,374.3 572.2,376.9 555.8,376.9" fill="#7e62b8"/>
<polygon points="565.5,379.7 581.1,379.7 572.8,395" fill="url(#tg)" stroke="#1d4f95" stroke-width="0.4"/>
<polygon points="565.5,379.7 581.1,379.7 579.5,382.7 566.9,382.7" fill="#7e62b8"/>
<line x1="573.7" y1="374.8" x2="579.5" y2="379.5" stroke="#445" stroke-width="0.6" stroke-dasharray="1.2 1"/>
<polyline points="564,390.5 565.2,392.5 572.5,397.5" fill="none" stroke="#445" stroke-width="0.6" stroke-dasharray="1.2 1"/>
<circle cx="565.2" cy="392.4" r="0.7" fill="#334" stroke="none" stroke-width="1"/>
<line x1="572.5" y1="394.5" x2="572.5" y2="406" stroke="#524db0" stroke-width="1.1" />
<polygon points="572.5,410 570.6,405.6 574.4,405.6" fill="#524db0"/>
<circle cx="572.5" cy="397.8" r="0.9" fill="#524db0" stroke="none" stroke-width="1"/>
<text x="561.5" y="409.5" font-size="8.8" fill="#475d9c" text-anchor="start" stroke="#475d9c" stroke-width="0.08" font-style="italic" >y<tspan font-size="4.6" dy="1">32</tspan></text>
<circle cx="503.0" cy="381.5" r="1" fill="#1f3f66" stroke="none" stroke-width="1"/>
<circle cx="506.2" cy="381.5" r="1" fill="#1f3f66" stroke="none" stroke-width="1"/>
<circle cx="509.4" cy="381.5" r="1" fill="#1f3f66" stroke="none" stroke-width="1"/>
</g>
</svg>
</body></html>
